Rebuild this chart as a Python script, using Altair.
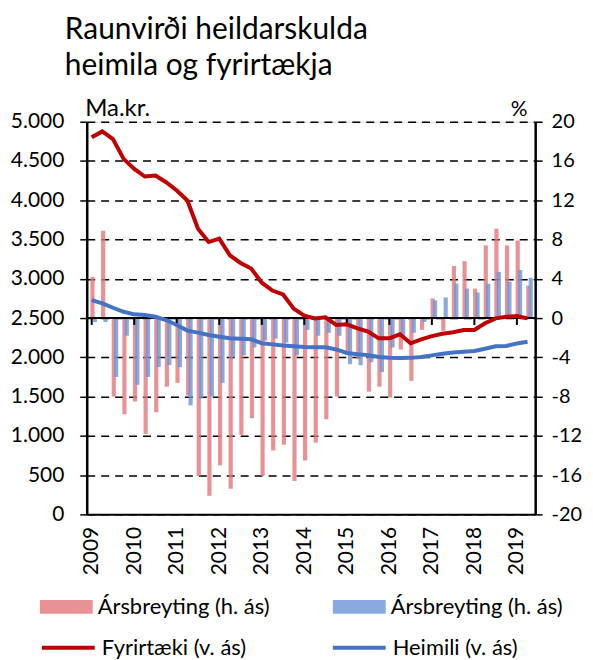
import altair as alt
import pandas as pd

# quarterly observations 2009Q1 .. 2019Q2 (index k = 0..41)
quarters = [f"{2009 + i // 4}Q{i % 4 + 1}" for i in range(42)]

# Levels (left axis, Ma.kr.)
fyrirtaeki = [4801, 4877, 4780, 4527, 4400, 4302, 4315, 4230, 4124, 3997,
              3638, 3468, 3511, 3299, 3202, 3131, 2950, 2850, 2800, 2620,
              2530, 2496, 2510, 2411, 2420, 2369, 2327, 2242, 2242, 2293,
              2179, 2228, 2270, 2300, 2320, 2348, 2348, 2433, 2496, 2516,
              2525, 2496]
heimili = [2728, 2687, 2631, 2580, 2547, 2538, 2516, 2475, 2411, 2340,
           2315, 2285, 2262, 2242, 2235, 2230, 2180, 2165, 2150, 2140,
           2130, 2128, 2128, 2100, 2055, 2040, 2028, 2005, 1995, 1990,
           1993, 2005, 2025, 2045, 2060, 2070, 2081, 2110, 2140, 2145,
           2175, 2199]

# Annual change (right axis, %)
breyting_fyrirtaeki = [4.2, 8.9, -8.0, -9.8, -8.5, -11.8, -9.6, -7.0, -6.6, -7.9,
                       -16.1, -18.1, -15.0, -17.4, -11.9, -10.2, -16.1, -13.5, -12.9, -16.6,
                       -14.5, -12.7, -10.3, -8.0, -3.6, -4.2, -7.5, -7.0, -8.1, -3.2,
                       -6.4, -1.2, 2.0, -1.3, 5.3, 5.8, 3.0, 7.4, 9.1, 7.4,
                       7.9, 3.3]
breyting_heimili = [-0.4, -0.4, -6.0, -1.8, -6.8, -6.0, -5.0, -4.8, -5.0, -8.9,
                    -8.2, -8.0, -6.6, -4.0, -3.8, -3.0, -2.3, -2.1, -2.5, -3.8,
                    -1.2, -1.8, -1.5, -1.8, -4.7, -4.8, -4.5, -5.5, -3.0, -1.8,
                    -1.5, -0.4, 1.8, 2.1, 3.5, 3.0, 2.6, 3.5, 4.7, 3.7,
                    4.9, 4.1]

years = list(range(2009, 2020))
left_ticks = [0, 500, 1000, 1500, 2000, 2500, 3000, 3500, 4000, 4500, 5000]
right_ticks = [-20, -16, -12, -8, -4, 0, 4, 8, 12, 16, 20]

FONT = "Lato"
k = list(range(len(quarters)))

lines_df = pd.DataFrame({
    "k": k * 2,
    "value": fyrirtaeki + heimili,
    "series": ["Fyrirtæki (v. ás)"] * 42 + ["Heimili (v. ás)"] * 42,
})
bars_f = pd.DataFrame({"k": k, "pct": breyting_fyrirtaeki, "s": "F"})
bars_h = pd.DataFrame({"k": k, "pct": breyting_heimili, "s": "H"})
ticks_df = pd.DataFrame({"k": [4 * i for i in range(len(years))], "y0": 0.0, "y1": -0.7})

xscale = alt.Scale(domain=[0, 41.25], nice=False, zero=False)
x_axis = alt.Axis(values=[4 * i for i in range(len(years))],
                  labelExpr="'' + (2009 + datum.value / 4)",
                  labelAngle=270, labelAlign="right", labelBaseline="middle",
                  labelFontSize=21, labelFont=FONT, labelColor="black",
                  labelPadding=12, labelFlush=False, labelOverlap=False,
                  ticks=False, grid=False,
                  domainColor="black", domainWidth=2, title=None)

yR = alt.Scale(domain=[-20, 20], nice=False, zero=False)
right_axis = alt.Axis(orient="right", values=right_ticks, grid=False,
                      labelExpr="datum.value < 0 ? '-' + abs(datum.value) : '\u00a0\u00a0\u00a0' + datum.value",
                      labelFontSize=20, labelFont=FONT, labelColor="black",
                      labelAlign="left", labelPadding=9, labelOverlap=False,
                      tickSize=7, tickColor="black", tickWidth=1.5,
                      domainColor="black", domainWidth=2.5,
                      title="%", titleAngle=0, titleFont=FONT, titleFontSize=21,
                      titleFontWeight="normal", titleAlign="left", titleBaseline="alphabetic",
                      titleX=-25, titleY=-6)

fill_scale = alt.Scale(domain=["F", "H"], range=["#E2777A", "#6D93D6"])
bar_legend = alt.Legend(title=None, orient="none", legendX=-47, legendY=460,
                        direction="horizontal", columns=2, columnPadding=63,
                        symbolType="M-1,-0.26H1V0.26H-1Z", symbolSize=2809,
                        symbolStrokeWidth=0, symbolOpacity=0.8,
                        labelExpr="'Ársbreyting (h. ás)'", labelFont=FONT,
                        labelFontSize=22, labelColor="black", labelOffset=5,
                        labelLimit=300, padding=0)

bars_red = alt.Chart(bars_f).mark_bar(width=4.2, xOffset=0.8, fillOpacity=0.8).encode(
    x=alt.X("k:Q", scale=xscale, axis=x_axis),
    y=alt.Y("pct:Q", scale=yR, axis=right_axis),
    fill=alt.Fill("s:N", scale=fill_scale, legend=bar_legend),
)
bars_blue = alt.Chart(bars_h).mark_bar(width=4.2, xOffset=3.2, fillOpacity=0.8).encode(
    x=alt.X("k:Q", scale=xscale, axis=x_axis),
    y=alt.Y("pct:Q", scale=yR, axis=right_axis),
    fill=alt.Fill("s:N", scale=fill_scale, legend=bar_legend),
)
zero_rule = alt.Chart(ticks_df).mark_rule(color="black", strokeWidth=2).encode(
    y=alt.Y("y0:Q", scale=yR, axis=right_axis),
    x=alt.value(0), x2=alt.value(450),
)
tick_rules = alt.Chart(ticks_df).mark_rule(color="black", strokeWidth=2).encode(
    x=alt.X("k:Q", scale=xscale, axis=x_axis),
    y=alt.Y("y0:Q", scale=yR, axis=right_axis),
    y2="y1:Q",
)
right_layer = alt.layer(bars_red, bars_blue, zero_rule, tick_rules)

yL = alt.Scale(domain=[0, 5000], nice=False, zero=False)
left_axis = alt.Axis(orient="left", values=left_ticks,
                     labelExpr="replace(format(datum.value, ','), ',', '.')",
                     labelFontSize=21, labelFont=FONT, labelColor="black", labelPadding=16,
                     labelOverlap=False,
                     tickSize=7, tickColor="black", tickWidth=1.5,
                     domainColor="black", domainWidth=2.5,
                     grid=True, gridColor="black", gridDash=[8, 6], gridWidth=1.5,
                     title="Ma.kr.", titleAngle=0, titleFont=FONT, titleFontSize=24,
                     titleFontWeight="normal", titleAlign="left", titleBaseline="alphabetic",
                     titleX=-2, titleY=-6)
line_legend = alt.Legend(title=None, orient="none", legendX=-47, legendY=499,
                         direction="horizontal", columns=2, columnPadding=78,
                         symbolType="stroke", symbolSize=2809, symbolStrokeWidth=4,
                         labelFont=FONT, labelFontSize=22, labelColor="black",
                         labelOffset=5, labelLimit=300, padding=0)
lines = alt.Chart(lines_df).mark_line(strokeWidth=4).encode(
    x=alt.X("k:Q", scale=xscale, axis=x_axis),
    y=alt.Y("value:Q", scale=yL, axis=left_axis),
    stroke=alt.Stroke("series:N",
                      scale=alt.Scale(domain=["Fyrirtæki (v. ás)", "Heimili (v. ás)"],
                                      range=["#C00000", "#4472C4"]),
                      legend=line_legend),
)

chart = alt.layer(right_layer, lines).resolve_scale(y="independent").properties(
    width=450, height=394,
    autosize=alt.AutoSizeParams(type="none"),
    padding={"left": 79, "top": 113, "right": 50, "bottom": 144},
    title=alt.TitleParams(text=["Raunvirði heildarskulda", "heimila og fyrirtækja"],
                          anchor="start", frame="group", font=FONT, fontSize=30,
                          fontWeight="normal", color="black", lineHeight=36,
                          dx=-22, offset=16),
).configure_view(stroke="black", strokeWidth=2).configure(background="white")

chart.save("out.html", embed_options={"renderer": "svg", "actions": False})
